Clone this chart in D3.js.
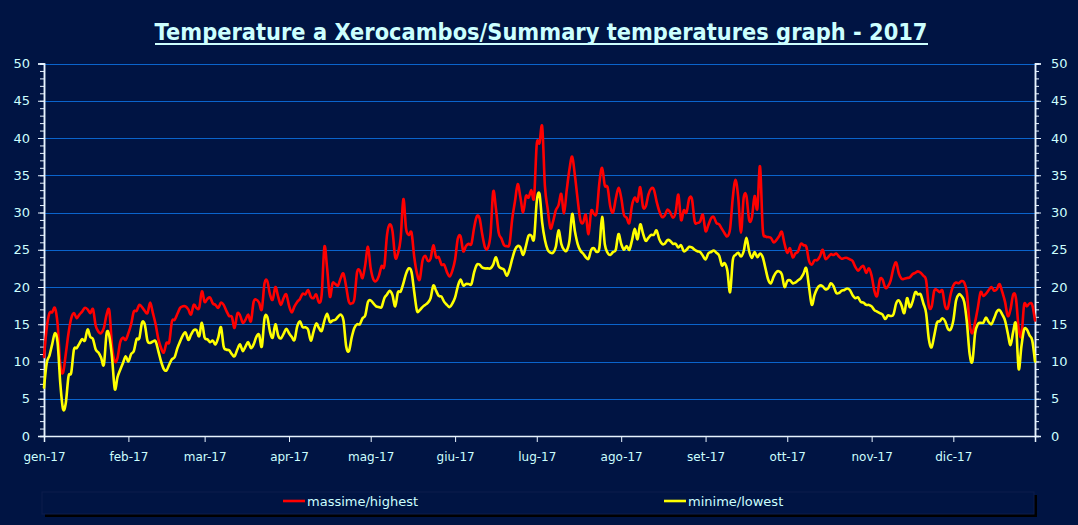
<!DOCTYPE html>
<html><head><meta charset="utf-8">
<script src="https://cdn.jsdelivr.net/npm/d3@7/dist/d3.min.js"></script>
<style>html,body{margin:0;padding:0;background:#001443;} svg{display:block}</style>
</head><body><svg id="chart" width="1078" height="525"></svg>
<script>
const titleText = "Temperature a Xerocambos/Summary temperatures graph - 2017";
const monthLabels = ["gen-17","feb-17","mar-17","apr-17","mag-17","giu-17","lug-17","ago-17","set-17","ott-17","nov-17","dic-17"];
const yTickValues = [0,5,10,15,20,25,30,35,40,45,50];
const seriesNames = ["massime/highest","minime/lowest"];
const seriesColors = ["#ff0000","#ffff00"];
const startDate = new Date(2017,0,1);
const endDate = new Date(2018,0,1);

const maxTemps = [
10.6,14.5,16.5,16.6,17.2,15.0,9.5,8.5,11.0,13.8,
15.8,16.5,15.8,16.3,16.7,17.2,17.0,16.5,17.0,14.8,
14.0,13.8,14.5,16.3,16.8,12.0,10.0,10.5,12.6,13.2,
12.9,13.8,15.0,16.7,16.8,17.6,17.3,16.8,16.5,17.9,
16.5,15.0,13.0,11.8,11.2,12.5,12.6,15.4,15.6,16.4,
17.2,17.4,17.4,17.0,16.3,17.6,17.2,17.2,19.4,18.0,
18.4,18.6,17.8,17.6,17.2,17.9,17.6,16.8,16.1,16.0,
14.5,16.4,16.2,15.2,15.6,16.3,15.4,18.0,18.3,17.9,
17.0,20.5,20.8,19.0,18.3,20.0,18.7,17.6,18.5,19.0,
17.5,16.6,17.4,18.0,18.4,19.1,19.0,19.6,18.7,18.5,
19.0,17.9,19.0,25.4,22.5,18.7,20.5,20.4,20.2,21.2,
21.8,20.0,18.0,17.8,18.4,22.0,22.2,21.2,23.0,25.4,
22.5,21.0,20.8,21.5,22.8,22.8,27.0,28.4,27.5,24.0,
24.5,26.5,31.8,27.8,27.0,27.3,24.0,21.8,21.0,23.5,
24.2,23.5,23.8,25.6,24.0,24.0,23.0,23.0,22.0,21.4,
22.2,23.7,26.5,26.8,24.8,25.5,25.8,25.8,28.0,29.5,
29.2,27.0,25.3,25.2,27.0,32.8,30.5,27.3,26.5,25.6,
25.5,25.8,29.2,31.5,33.8,32.0,30.0,32.2,32.0,33.0,
32.0,39.2,39.3,41.5,33.5,30.5,27.9,28.8,30.3,31.0,
32.5,29.9,33.0,35.8,37.5,35.0,31.8,29.0,28.6,29.7,
27.1,30.2,29.8,30.0,34.0,36.0,33.6,33.4,30.8,30.0,
31.8,33.3,32.0,29.7,29.3,28.6,31.0,32.0,31.5,33.4,
30.8,30.8,32.4,33.2,33.1,31.5,30.2,29.4,29.6,30.4,
30.0,29.3,30.0,32.4,29.0,30.3,30.0,31.9,31.8,28.8,
28.6,28.8,29.7,27.5,28.3,29.2,29.4,28.6,28.4,27.8,
27.2,26.8,27.8,32.0,34.4,32.0,27.3,32.0,32.2,29.0,
29.3,32.2,30.5,36.2,27.8,26.8,26.7,26.6,26.0,26.3,
26.8,27.4,25.8,24.6,25.2,24.0,24.5,24.8,25.8,25.6,
25.4,23.5,23.0,23.6,23.6,24.1,25.0,23.8,24.0,24.4,
24.3,24.5,24.1,23.8,23.9,23.9,23.7,23.5,22.7,22.2,
22.6,22.8,21.9,22.5,21.5,19.5,18.8,21.0,21.0,19.9,
20.1,20.9,22.5,23.3,21.8,21.1,21.1,21.2,21.3,21.7,
21.9,22.1,21.9,21.5,20.9,17.5,17.3,19.5,19.6,19.3,
19.5,17.4,17.2,19.0,20.2,20.6,20.5,20.8,20.6,19.2,
15.0,13.8,15.3,17.2,19.3,18.8,19.1,19.6,20.0,19.5,
19.7,20.4,19.3,18.0,16.1,17.0,19.0,18.5,14.5,13.4,
17.6,17.4,17.8,17.6,15.5];

const minTemps = [
6.5,9.8,10.8,12.3,13.8,12.5,7.0,3.6,4.4,8.0,
8.5,11.6,11.8,12.4,13.0,12.8,14.3,13.3,13.0,11.6,
11.2,10.5,9.6,13.8,13.4,10.5,6.3,7.9,8.9,9.8,
10.7,10.0,11.0,11.4,13.0,13.1,15.2,15.0,12.8,12.5,
12.7,12.7,11.4,10.0,9.0,8.8,9.6,10.3,10.6,11.8,
12.7,13.5,13.9,12.9,13.6,14.2,14.2,13.4,15.2,13.2,
13.0,12.6,12.8,12.3,13.2,14.6,12.0,11.6,11.5,11.0,
10.7,11.6,12.3,11.4,12.0,12.6,11.8,12.3,13.3,13.6,
12.0,15.8,16.0,14.0,13.2,15.0,13.5,13.1,13.7,14.4,
13.8,13.3,12.9,14.7,15.4,14.6,14.6,14.3,12.8,14.0,
15.1,14.5,14.1,15.5,16.4,15.3,15.5,15.6,16.0,16.3,
15.5,12.0,11.4,13.2,14.5,15.0,15.0,15.8,16.2,18.0,
18.2,17.8,17.4,17.3,17.3,18.5,19.0,19.5,18.9,17.4,
19.3,19.4,20.5,21.8,22.5,22.0,19.3,16.8,16.9,17.3,
17.6,17.9,18.5,20.2,19.5,18.8,18.7,18.0,17.6,17.3,
17.8,18.6,20.1,21.0,20.2,20.4,20.4,20.4,22.0,23.0,
23.0,22.6,22.5,22.5,22.5,23.0,24.0,22.8,22.5,22.3,
21.5,22.4,23.8,25.0,25.5,25.3,24.3,25.5,26.9,26.9,
26.5,31.5,32.5,28.6,26.3,25.0,24.6,24.6,25.4,27.6,
25.8,25.0,24.9,26.2,29.8,27.5,25.8,24.9,24.5,24.0,
23.8,25.0,25.2,24.7,25.3,29.4,25.7,24.6,24.3,24.7,
25.0,27.1,25.8,25.0,25.5,25.0,26.3,27.8,26.4,28.4,
27.2,26.2,26.6,27.0,27.0,27.6,26.4,25.8,25.8,26.3,
26.2,25.8,25.8,25.3,25.6,24.8,25.0,25.4,25.3,25.0,
24.8,24.7,24.2,23.7,24.5,24.7,24.9,24.6,24.2,22.9,
23.2,22.2,19.3,23.6,24.3,24.6,24.1,24.8,26.6,24.8,
23.9,24.7,24.0,24.5,24.0,22.5,21.0,20.5,21.4,22.0,
22.1,21.7,20.0,20.8,20.9,20.5,20.6,20.9,21.2,21.8,
22.5,20.0,17.6,18.9,19.8,20.2,20.1,19.7,19.8,20.5,
20.1,19.2,19.2,19.5,19.6,19.8,19.6,18.9,18.5,18.6,
18.0,17.9,17.6,17.6,17.4,16.9,16.7,16.5,16.3,15.7,
16.2,16.1,16.3,17.8,18.2,17.5,16.5,18.5,17.3,18.0,
19.3,19.0,19.0,17.8,16.5,13.0,11.9,13.5,15.2,15.4,
15.8,15.4,14.4,14.3,15.5,18.2,19.0,18.8,18.0,15.2,
11.0,10.0,13.8,15.0,15.2,15.2,15.9,15.3,15.0,15.8,
16.7,16.9,16.3,15.5,13.8,12.2,14.0,15.0,9.0,12.0,
14.3,14.3,13.5,12.8,10.0];

(function(){
const dates = d3.timeDay.range(startDate, endDate);
const W = 1078, H = 525;
const pLeft = 44, pRight = 1035, pTop = 63.5, pBottom = 436;
const textColor = "#ccffff";
const bg = "#001443";

const svg = d3.select("#chart");
svg.append("rect").attr("width", W).attr("height", H).attr("fill", bg);

const x = d3.scaleTime().domain([startDate, dates[dates.length-1]]).range([pLeft, pRight]);
const y = d3.scaleLinear().domain([0, 50]).range([pBottom, pTop]);

svg.append("g").selectAll("line").data(yTickValues.filter(v => v > 0)).join("line")
  .attr("x1", pLeft).attr("x2", pRight)
  .attr("y1", d => Math.round(y(d)) + 0.5).attr("y2", d => Math.round(y(d)) + 0.5)
  .attr("stroke", "#0a64cc").attr("stroke-width", 1);

const minorTicks = d3.range(0, 51, 1);
function styleAxis(g){
  g.select(".domain").attr("stroke", "#e8f4ff").attr("stroke-width", 1.5);
  g.selectAll(".tick line").attr("stroke", "#e8f4ff").attr("stroke-width", 1);
  g.selectAll(".tick text").attr("fill", textColor)
    .attr("font-family", "DejaVu Sans, Verdana, sans-serif").attr("font-size", 13);
}
const gLeftMinor = svg.append("g").attr("transform", `translate(${pLeft},0)`)
  .call(d3.axisLeft(y).tickValues(minorTicks).tickSize(4).tickFormat(""));
styleAxis(gLeftMinor);
const gLeft = svg.append("g").attr("transform", `translate(${pLeft},0)`)
  .call(d3.axisLeft(y).tickValues(yTickValues).tickSize(6).tickPadding(8).tickFormat(d3.format("d")));
styleAxis(gLeft);

const gRightMinor = svg.append("g").attr("transform", `translate(${pRight},0)`)
  .call(d3.axisRight(y).tickValues(minorTicks).tickSize(4).tickFormat(""));
styleAxis(gRightMinor);
const gRight = svg.append("g").attr("transform", `translate(${pRight},0)`)
  .call(d3.axisRight(y).tickValues(yTickValues).tickSize(6).tickPadding(10).tickFormat(d3.format("d")));
styleAxis(gRight);

const monthStarts = d3.timeMonth.range(startDate, endDate);
const gBottom = svg.append("g").attr("transform", `translate(0,${pBottom})`)
  .call(d3.axisBottom(x).tickValues(monthStarts).tickSize(6).tickPadding(10)
    .tickFormat((d, i) => monthLabels[i]));
gBottom.select(".domain").attr("stroke", "#e8f4ff").attr("stroke-width", 1.5);
gBottom.selectAll(".tick line").attr("stroke", "#e8f4ff");
gBottom.selectAll(".tick text").attr("fill", textColor)
  .attr("font-family", "'Comic Sans MS', 'DejaVu Sans', sans-serif")
  .attr("font-size", 12);

const line = d3.line().x((d, i) => x(dates[i])).y(d => y(d)).curve(d3.curveCatmullRom.alpha(0));
[maxTemps, minTemps].forEach((s, k) => {
  svg.append("path").datum(s).attr("d", line).attr("fill", "none")
    .attr("stroke", seriesColors[k]).attr("stroke-width", 2.6)
    .attr("stroke-linejoin", "round").attr("stroke-linecap", "round");
});

svg.append("text").attr("x", 541).attr("y", 40).attr("text-anchor", "middle")
  .attr("fill", textColor).attr("font-weight", "bold")
  .attr("font-family", "'Comic Sans MS', 'DejaVu Sans', sans-serif").attr("font-size", 23)
  .attr("textLength", 773).attr("lengthAdjust", "spacingAndGlyphs")
  .text(titleText);
svg.append("line").attr("x1", 155).attr("x2", 928).attr("y1", 44).attr("y2", 44)
  .attr("stroke", textColor).attr("stroke-width", 2);

const lg = svg.append("g");
lg.append("rect").attr("x", 45).attr("y", 495).attr("width", 992).attr("height", 22).attr("fill", "#000");
lg.append("rect").attr("x", 42).attr("y", 492).attr("width", 992).attr("height", 22)
  .attr("fill", bg).attr("stroke", "#0c1d4d").attr("stroke-width", 1);
const legendX = [283, 664];
seriesNames.forEach((n, k) => {
  lg.append("line").attr("x1", legendX[k]).attr("x2", legendX[k] + 22)
    .attr("y1", 501).attr("y2", 501).attr("stroke", seriesColors[k]).attr("stroke-width", 2.6);
  lg.append("text").attr("x", legendX[k] + 24).attr("y", 505.5).attr("fill", textColor)
    .attr("font-family", "'Comic Sans MS', 'DejaVu Sans', sans-serif")
    .attr("font-size", 13).text(n);
});
})();
</script>
</body></html>
